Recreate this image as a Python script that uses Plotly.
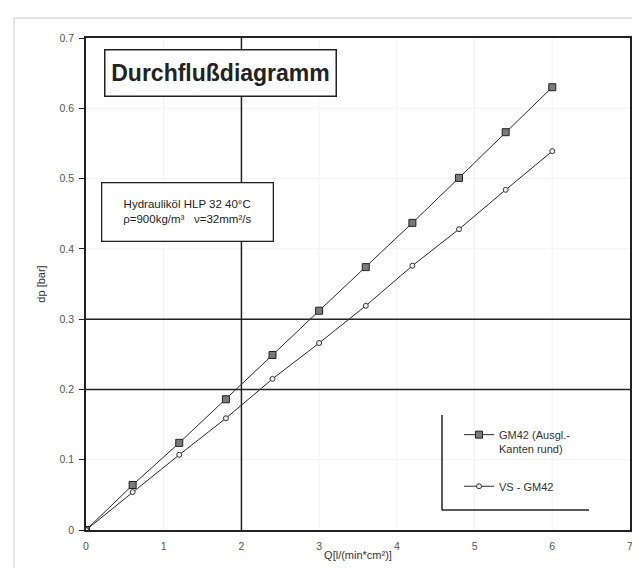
import plotly.graph_objects as go

# ---- data ----
q_values = [0, 0.6, 1.2, 1.8, 2.4, 3.0, 3.6, 4.2, 4.8, 5.4, 6.0]
dp_gm42_ausgl = [0, 0.064, 0.124, 0.186, 0.249, 0.312, 0.374, 0.437, 0.501, 0.566, 0.630]
dp_vs_gm42 = [0, 0.054, 0.107, 0.159, 0.215, 0.266, 0.319, 0.376, 0.428, 0.484, 0.539]
series_names = ["GM42 (Ausgl.-<br>Kanten rund)", "VS - GM42"]
x_ticks = [0, 1, 2, 3, 4, 5, 6, 7]
y_ticks = [0, 0.1, 0.2, 0.3, 0.4, 0.5, 0.6, 0.7]
y_ticktext = ["0", "0.1", "0.2", "0.3", "0.4", "0.5", "0.6", "0.7"]
highlight_x = [2]
highlight_y = [0.2, 0.3]
title_text = "Durchflußdiagramm"
info_text = "Hydrauliköl HLP 32 40°C<br>ρ=900kg/m³   ν=32mm²/s"

FONT = "Liberation Sans, Arial, sans-serif"
W, H = 640, 568
L, R, T, B = 78, 18, 30, 46
pw, ph = W - L - R, H - T - B


def px_x(p):
    return (p - L) / pw


def px_y(p):
    return (H - B - p) / ph


fig = go.Figure()
fig.add_trace(go.Scatter(
    x=q_values, y=dp_gm42_ausgl, name=series_names[0], mode="lines+markers",
    line=dict(color="#2a2a2a", width=1),
    marker=dict(symbol="square", size=7, color="#7a7a7a", line=dict(color="#222", width=1)),
    legendgroup="a",
))
fig.add_trace(go.Scatter(
    x=q_values, y=dp_vs_gm42, name=series_names[1], mode="lines+markers",
    line=dict(color="#2a2a2a", width=1),
    marker=dict(symbol="circle", size=5, color="#eeeeee", line=dict(color="#333", width=1)),
    legendgroup="b",
))

shapes = []
# faint grid
for xv in x_ticks[1:-1]:
    if xv not in highlight_x:
        shapes.append(dict(type="line", xref="x", yref="paper", x0=xv, x1=xv, y0=0, y1=1,
                           line=dict(color="#f2f2f2", width=1), layer="below"))
for yv in y_ticks[1:-1]:
    if yv not in highlight_y:
        shapes.append(dict(type="line", xref="paper", yref="y", x0=0, x1=1, y0=yv, y1=yv,
                           line=dict(color="#f2f2f2", width=1), layer="below"))
for xv in highlight_x:
    shapes.append(dict(type="line", xref="x", yref="paper", x0=xv, x1=xv, y0=0, y1=1,
                       line=dict(color="#222", width=1.5), layer="below"))
for yv in highlight_y:
    shapes.append(dict(type="line", xref="paper", yref="y", x0=0, x1=1, y0=yv, y1=yv,
                       line=dict(color="#222", width=1.5), layer="below"))
# legend L-shaped frame
shapes.append(dict(type="line", xref="paper", yref="paper",
                   x0=px_x(434), x1=px_x(434), y0=px_y(407), y1=px_y(502),
                   line=dict(color="#222", width=1.5)))
shapes.append(dict(type="line", xref="paper", yref="paper",
                   x0=px_x(434), x1=px_x(581), y0=px_y(502), y1=px_y(502),
                   line=dict(color="#222", width=1.5)))
# outer light frame
shapes.append(dict(type="rect", xref="paper", yref="paper",
                   x0=px_x(6), x1=px_x(636), y0=px_y(575), y1=px_y(10),
                   line=dict(color="#dddddd", width=1.5), layer="below"))

annotations = [
    dict(text="<b>" + title_text + "</b>", xref="paper", yref="paper",
         x=px_x(212), y=px_y(65), xanchor="center", yanchor="middle", showarrow=False,
         font=dict(family=FONT, size=23, color="#222"),
         bgcolor="white", bordercolor="#222", borderwidth=1.5,
         width=228, height=43, borderpad=1),
    dict(text=info_text, xref="paper", yref="paper",
         x=px_x(179), y=px_y(204.5), xanchor="center", yanchor="middle",
         showarrow=False, align="center",
         font=dict(family=FONT, size=11.5, color="#222"),
         bgcolor="white", bordercolor="#222", borderwidth=1.3,
         width=168, height=55, borderpad=1),
]

fig.update_layout(
    width=W, height=H,
    margin=dict(l=L, r=R, t=T, b=B, autoexpand=False),
    paper_bgcolor="white", plot_bgcolor="white",
    font=dict(family=FONT, size=10, color="#444"),
    shapes=shapes, annotations=annotations,
    showlegend=True,
    legend=dict(x=px_x(451), y=px_y(413), xanchor="left", yanchor="top",
                bgcolor="rgba(0,0,0,0)", borderwidth=0, valign="top",
                tracegroupgap=20, font=dict(family=FONT, size=11, color="#333")),
    xaxis=dict(range=[0, 7], tickvals=x_ticks, showline=True, mirror=True,
               linecolor="#222", linewidth=1.5, showgrid=False, automargin=False,
               zeroline=False, ticks="", ticklabelstandoff=6,
               tickfont=dict(size=10.5, color="#555"),
               title=dict(text="Q[l/(min*cm²)]", font=dict(size=11, color="#333"), standoff=0)),
    yaxis=dict(range=[0, 0.7], tickvals=y_ticks, ticktext=y_ticktext, showline=True, mirror=True,
               linecolor="#222", linewidth=1.5, showgrid=False, automargin=False,
               zeroline=False, ticks="outside", ticklen=5, tickcolor="#222",
               ticklabelstandoff=3, tickfont=dict(size=10.5, color="#555"),
               title=dict(text="dp [bar]", font=dict(size=11, color="#333"), standoff=12)),
)

fig.write_html("out.html")
